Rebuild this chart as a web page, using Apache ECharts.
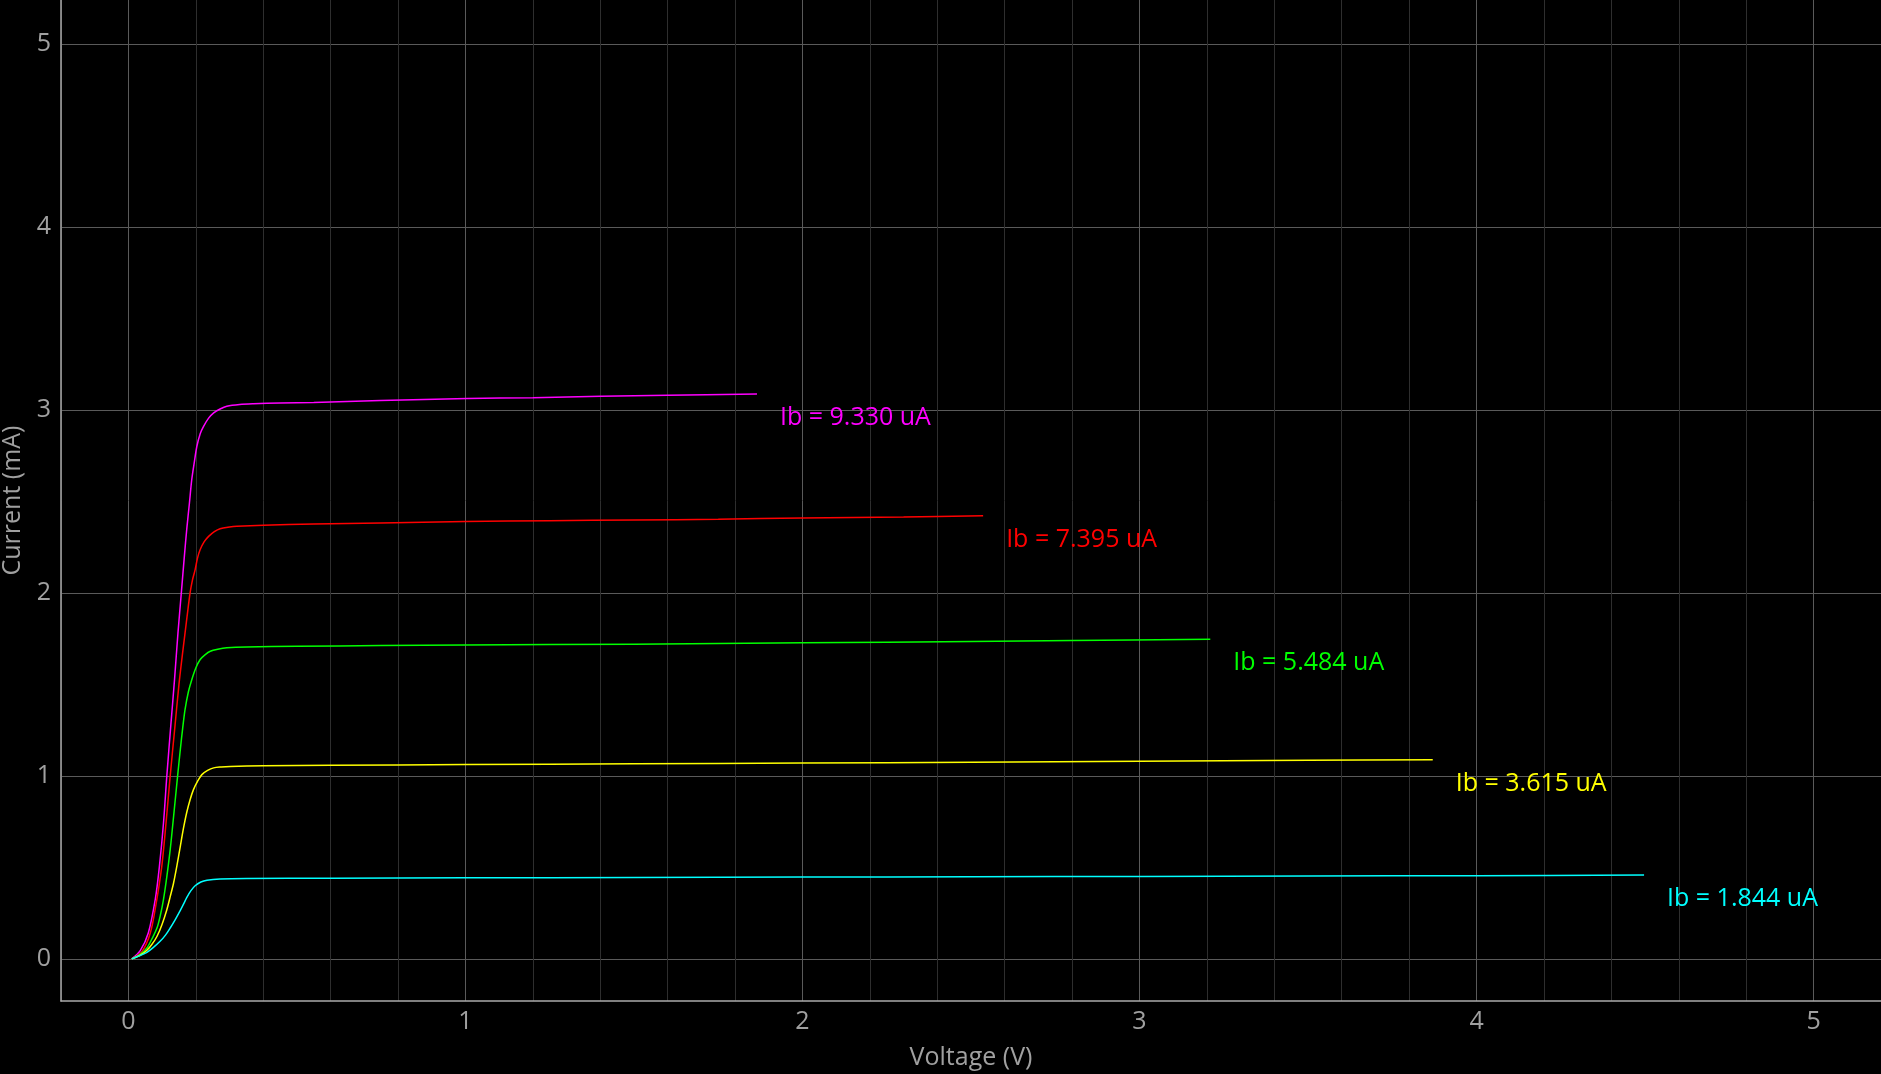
<!DOCTYPE html>
<html>
<head>
<meta charset="utf-8">
<title>Ic vs Vce</title>
<script src="https://cdn.jsdelivr.net/npm/echarts@6/dist/echarts.min.js"></script>
<style>
  html, body { margin: 0; padding: 0; background: #000; }
  #chart { width: 1881px; height: 1074px; }
</style>
</head>
<body>
<div id="chart"></div>
<script>
// collector voltage (V) and current (mA) for each base current
const vIb9330 = [0.01, 0.035, 0.059, 0.08, 0.092, 0.104, 0.114, 0.126, 0.137, 0.147, 0.157, 0.166, 0.173, 0.181, 0.188, 0.196, 0.203, 0.213, 0.223, 0.238, 0.253, 0.272, 0.292, 0.33, 0.371, 0.45, 0.55, 0.748, 1.006, 1.2, 1.402, 1.6, 1.865]
const iIb9330 = [0, 0.045, 0.142, 0.33, 0.506, 0.74, 1.0, 1.28, 1.53, 1.78, 2.0, 2.2, 2.346, 2.49, 2.62, 2.72, 2.80, 2.87, 2.91, 2.955, 2.984, 3.005, 3.02, 3.03, 3.034, 3.038, 3.041, 3.052, 3.062, 3.067, 3.074, 3.08, 3.087]

const vIb7395 = [0.01, 0.04, 0.065, 0.082, 0.099, 0.112, 0.124, 0.137, 0.15, 0.16, 0.168, 0.176, 0.183, 0.19, 0.198, 0.205, 0.213, 0.225, 0.238, 0.255, 0.272, 0.3, 0.322, 0.401, 0.55, 0.748, 1.0, 1.25, 1.5, 1.75, 2.0, 2.3, 2.536]
const iIb7395 = [0, 0.04, 0.142, 0.3, 0.506, 0.75, 1.0, 1.25, 1.5, 1.66, 1.78, 1.90, 2.0, 2.07, 2.127, 2.19, 2.237, 2.28, 2.309, 2.335, 2.351, 2.36, 2.364, 2.37, 2.376, 2.382, 2.39, 2.395, 2.398, 2.402, 2.41, 2.415, 2.422]

const vIb5484 = [0.01, 0.035, 0.055, 0.07, 0.085, 0.095, 0.104, 0.114, 0.124, 0.132, 0.139, 0.146, 0.154, 0.161, 0.168, 0.178, 0.188, 0.2, 0.213, 0.228, 0.243, 0.265, 0.292, 0.35, 0.5, 0.749, 1.0, 1.5, 2.0, 2.5, 2.8, 3.21]
const iIb5484 = [0, 0.025, 0.06, 0.11, 0.17, 0.24, 0.324, 0.45, 0.597, 0.74, 0.87, 1.0, 1.144, 1.26, 1.362, 1.46, 1.526, 1.59, 1.636, 1.663, 1.681, 1.692, 1.70, 1.705, 1.708, 1.712, 1.716, 1.72, 1.727, 1.735, 1.74, 1.747]

const vIb3615 = [0.01, 0.035, 0.055, 0.07, 0.085, 0.1, 0.114, 0.124, 0.134, 0.144, 0.154, 0.163, 0.173, 0.183, 0.193, 0.205, 0.218, 0.235, 0.253, 0.275, 0.302, 0.4, 0.6, 1.0, 1.5, 2.0, 2.5, 3.0, 3.5, 3.87]
const iIb3615 = [0, 0.02, 0.047, 0.08, 0.124, 0.19, 0.269, 0.34, 0.415, 0.51, 0.615, 0.71, 0.80, 0.87, 0.925, 0.97, 1.007, 1.03, 1.044, 1.049, 1.052, 1.055, 1.058, 1.062, 1.066, 1.07, 1.075, 1.08, 1.085, 1.088]

const vIb1844 = [0.01, 0.03, 0.055, 0.075, 0.094, 0.11, 0.124, 0.139, 0.154, 0.165, 0.173, 0.185, 0.198, 0.215, 0.233, 0.272, 0.35, 0.6, 1.0, 1.5, 2.0, 2.5, 3.0, 3.5, 4.0, 4.497]
const iIb1844 = [0, 0.015, 0.036, 0.064, 0.096, 0.13, 0.169, 0.215, 0.265, 0.305, 0.335, 0.372, 0.40, 0.42, 0.43, 0.437, 0.44, 0.441, 0.443, 0.445, 0.447, 0.449, 0.451, 0.453, 0.455, 0.458]

const curveLabels = ['Ib = 9.330 uA', 'Ib = 7.395 uA', 'Ib = 5.484 uA', 'Ib = 3.615 uA', 'Ib = 1.844 uA']
const curveColors = ['#ff00ff', '#ff0000', '#00ff00', '#ffff00', '#00ffff']
const curveV = [vIb9330, vIb7395, vIb5484, vIb3615, vIb1844]
const curveI = [iIb9330, iIb7395, iIb5484, iIb3615, iIb1844]

const FONT = '"Open Sans", "Noto Sans", sans-serif'
const isInt = v => Math.abs(v - Math.round(v)) < 1e-6

let chart = echarts.init(document.getElementById('chart'))

let series = []
for (let i = 0; i < curveLabels.length; i++) {
  series.push({
    type: 'line',
    name: curveLabels[i],
    data: curveV[i].map((v, k) => [v, curveI[i][k]]),
    showSymbol: false,
    smooth: 0.3,
    lineStyle: { color: curveColors[i], width: 1.5 },
    itemStyle: { color: curveColors[i] },
    endLabel: {
      show: true,
      formatter: curveLabels[i],
      color: curveColors[i],
      fontFamily: FONT,
      fontSize: 25,
      distance: 0,
      offset: [23, 24]
    }
  })
}

let option = {
  backgroundColor: '#000',
  animation: false,
  grid: {
    left: 61,
    right: 0,
    top: 0,
    bottom: 73,
    containLabel: false,
    outerBoundsMode: 'none'
  },
  xAxis: {
    type: 'value',
    min: -0.2,
    max: 5.2,
    interval: 0.2,
    name: 'Voltage (V)',
    nameLocation: 'middle',
    nameGap: 44,
    nameTextStyle: { color: '#a0a0a0', fontSize: 25, fontFamily: FONT },
    axisLine: { show: true, onZero: false, lineStyle: { color: '#aaaaaa', width: 1.5 } },
    axisTick: { show: false },
    axisLabel: {
      color: '#a0a0a0',
      fontSize: 25,
      fontFamily: FONT,
      margin: 8,
      interval: 0,
      formatter: v => isInt(v) ? String(Math.round(v)) : ''
    },
    splitLine: {
      show: true,
      // every fifth line (the whole volts) is brighter
      lineStyle: { color: ['#2e2e2e', '#5a5a5a', '#2e2e2e', '#2e2e2e', '#2e2e2e'], width: 1 }
    }
  },
  yAxis: {
    type: 'value',
    min: -0.23,
    max: 5.24,
    name: 'Current (mA)',
    nameLocation: 'middle',
    nameGap: 27,
    nameTextStyle: { color: '#a0a0a0', fontSize: 25, fontFamily: FONT },
    axisLine: { show: true, onZero: false, lineStyle: { color: '#aaaaaa', width: 1.5 } },
    axisTick: { show: false },
    axisLabel: {
      color: '#a0a0a0',
      fontSize: 25,
      fontFamily: FONT,
      margin: 10,
      showMinLabel: false,
      showMaxLabel: false
    },
    splitLine: {
      show: true,
      showMinLine: false,
      showMaxLine: false,
      lineStyle: { color: '#5a5a5a', width: 1 }
    }
  },
  series: series
}

chart.setOption(option)
</script>
</body>
</html>
